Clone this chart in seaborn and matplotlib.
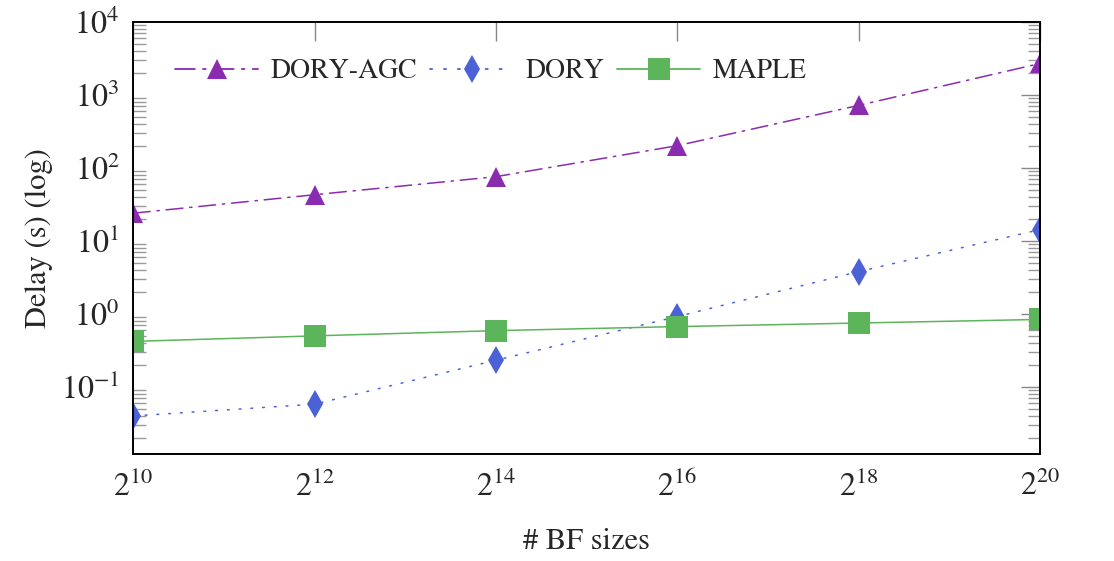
import matplotlib
matplotlib.use("Agg")
import matplotlib.pyplot as plt
import seaborn as sns
import pandas as pd
import numpy as np
from matplotlib.ticker import LogLocator, NullFormatter, NullLocator

# ---- data ----
bf_exponents = [10, 12, 14, 16, 18, 20]
bf_sizes = [2 ** e for e in bf_exponents]
methods = ["DORY-AGC", "DORY", "MAPLE"]
dory_agc = [24, 43, 76, 202, 720, 2700]
dory = [0.040, 0.058, 0.232, 0.92, 3.8, 14.3]
maple = [0.42, 0.50, 0.59, 0.67, 0.75, 0.84]

df = pd.DataFrame({
    "size": bf_sizes * 3,
    "delay": dory_agc + dory + maple,
    "method": [methods[0]] * 6 + [methods[1]] * 6 + [methods[2]] * 6,
})

sns.set_theme(style="white")
plt.rcParams["font.family"] = ["STIXGeneral", "DejaVu Serif"]
plt.rcParams["mathtext.fontset"] = "stix"

palette = {"DORY-AGC": "#8A2BB0", "DORY": "#4A62D6", "MAPLE": "#5CB55A"}
markers = {"DORY-AGC": "^", "DORY": "d", "MAPLE": "s"}
dashes = {"DORY-AGC": (11, 4.5, 1.5, 4.5), "DORY": (1.2, 6.5), "MAPLE": ""}
msizes = {"^": 14, "d": 14, "s": 16}

fig = plt.figure(figsize=(11.14, 5.61), dpi=100)
ax = fig.add_axes([0.1198, 0.1907, 0.8138, 0.7701])

sns.lineplot(data=df, x="size", y="delay", hue="method", style="method",
             hue_order=methods, style_order=methods,
             palette=palette, markers=markers, dashes=dashes,
             linewidth=1.1, markersize=14, markeredgewidth=0,
             ax=ax, legend=True)

for line in ax.get_lines():
    line.set_dash_capstyle("round")
    m = line.get_marker()
    if m in msizes:
        line.set_markersize(msizes[m])

ax.set_xscale("log", base=2)
ax.set_yscale("log")
ax.set_xlim(2 ** 10, 2 ** 20)
ax.set_ylim(10 ** -1.92, 1e4)
ax.set_xticks(bf_sizes)
ax.xaxis.set_minor_locator(NullLocator())
ax.yaxis.set_major_locator(LogLocator(base=10, numticks=20))
ax.yaxis.set_minor_locator(LogLocator(base=10, subs=np.arange(2, 10), numticks=20))
ax.yaxis.set_minor_formatter(NullFormatter())

ax.tick_params(axis="both", which="major", direction="in", length=14, width=1.0,
               color="#888888", labelsize=23, top=True, right=True)
ax.tick_params(axis="y", which="minor", direction="in", length=9, width=1.0,
               color="#999999", left=True, right=True)
ax.tick_params(axis="y", which="major", pad=10)
ax.tick_params(axis="x", which="major", pad=12)

for s in ax.spines.values():
    s.set_color("black")
    s.set_linewidth(1.4)

ax.set_xlabel("# BF sizes", fontsize=22, labelpad=18)
ax.set_ylabel("Delay (s) (log)", fontsize=22, labelpad=6)

handles, labels = ax.get_legend_handles_labels()
for h in handles:
    h.set_linewidth(1.3)
ax.legend(handles, labels, loc="center left", bbox_to_anchor=(0.0458, 0.885),
          ncol=3, frameon=False, fontsize=20, handlelength=3.0,
          handletextpad=0.45, columnspacing=0.45, borderpad=0, borderaxespad=0)

fig.savefig("out.png", dpi=100)
